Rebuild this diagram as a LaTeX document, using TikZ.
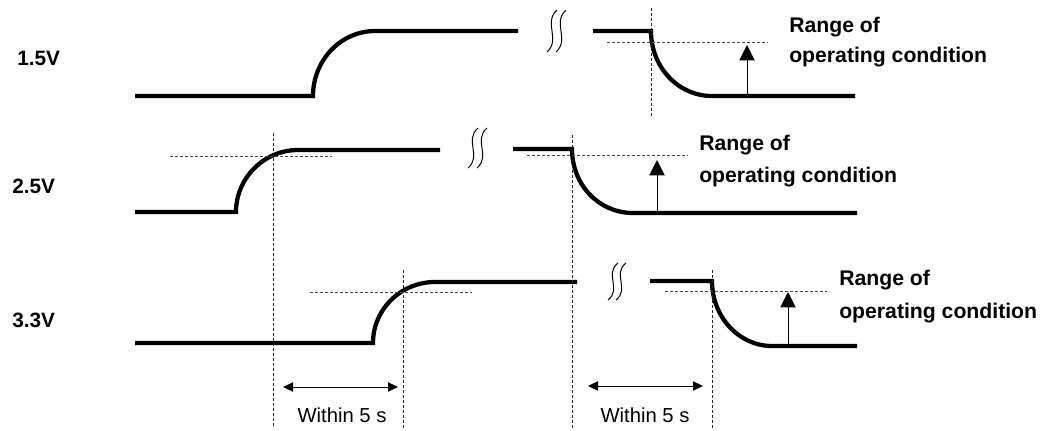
\documentclass[tikz,border=0pt]{standalone}
\usepackage{fontspec}
\setmainfont{Liberation Sans}
\usetikzlibrary{arrows.meta}
\newcommand\breakmark[4]{%
  \foreach \bx in {#1,#2}{%
    \draw[brk] (\bx+5,#3) .. controls (\bx-9,{#3+(#4-#3)*0.3}) and (\bx+9,{#4-(#4-#3)*0.3}) .. (\bx-5,#4);
  }%
}
\begin{document}
\begin{tikzpicture}[x=0.75pt,y=-0.75pt,
  wave/.style={line width=3.2pt, line cap=butt, line join=miter},
  hguide/.style={line width=0.75pt, black!70, dash pattern=on 2.25pt off 1.5pt},
  vguide/.style={line width=0.75pt, black!85, dash pattern=on 2.25pt off 1.5pt},
  brk/.style={line width=0.75pt},
  uparrow/.style={line width=0.75pt, -{Triangle[length=11.5pt,width=11.5pt]}},
  spanarrow/.style={line width=0.75pt, {Triangle[length=7.5pt,width=7pt]}-{Triangle[length=7.5pt,width=7pt]}},
  vlabel/.style={font=\bfseries\fontsize{15.6}{18}\selectfont, anchor=base west, inner sep=0pt},
  rlabel/.style={font=\bfseries\fontsize{15.9}{18}\selectfont, anchor=base west, inner sep=0pt},
  wlabel/.style={font=\fontsize{15.2}{18}\selectfont, anchor=base, inner sep=0pt},
]
\useasboundingbox (0,0) rectangle (1047,430);

% ---------- row 1 : 1.5V ----------
\node[vlabel] (v15) at (17,65) {1.5V};
\coordinate (a0) at (135,96);
\coordinate (a1) at (313,96);
\coordinate (a2) at (375,31);
\coordinate (a3) at (518,31);
\draw[wave] (a0) -- (a1) .. controls (313,60) and (341,31) .. (a2) -- (a3);
\breakmark{552}{561}{10}{52}
\coordinate (b0) at (593,31);
\coordinate (b1) at (651,31);
\coordinate (b2) at (712,96);
\coordinate (b3) at (855,96);
\draw[wave] (b0) -- (b1) .. controls (651,67) and (678,96) .. (b2) -- (b3);
\coordinate (g1t) at (651,8);
\coordinate (g1b) at (651,118);
\draw[vguide] (g1t) -- (g1b);
\coordinate (h1l) at (607,42);
\coordinate (h1r) at (768,42);
\draw[hguide] (h1l) -- (h1r);
\coordinate (r1s) at (747,96);
\coordinate (r1e) at (747,45);
\draw[uparrow] (r1s) -- (r1e);
\node[rlabel] (r1a) at (789,32) {Range of};
\node[rlabel] (r1b) at (789,62) {operating condition};

% ---------- row 2 : 2.5V ----------
\node[vlabel] (v25) at (12,193) {2.5V};
\coordinate (c0) at (135,212);
\coordinate (c1) at (236,212);
\coordinate (c2) at (298,150);
\coordinate (c3) at (440,150);
\draw[wave] (c0) -- (c1) .. controls (236,178) and (264,150) .. (c2) -- (c3);
\breakmark{473}{482}{128}{168}
\coordinate (d0) at (513,149);
\coordinate (d1) at (572,149);
\coordinate (d2) at (633,213);
\coordinate (d3) at (857,213);
\draw[wave] (d0) -- (d1) .. controls (572,185) and (599,213) .. (d2) -- (d3);
\coordinate (h2al) at (170,156);
\coordinate (h2ar) at (332,156);
\draw[hguide] (h2al) -- (h2ar);
\coordinate (h2bl) at (527,155);
\coordinate (h2br) at (688,155);
\draw[hguide] (h2bl) -- (h2br);
\coordinate (r2s) at (657,213);
\coordinate (r2e) at (657,160);
\draw[uparrow] (r2s) -- (r2e);
\node[rlabel] (r2a) at (699,150) {Range of};
\node[rlabel] (r2b) at (699,182) {operating condition};

% ---------- row 3 : 3.3V ----------
\node[vlabel] (v33) at (12,327) {3.3V};
\coordinate (e0) at (135,343);
\coordinate (e1) at (373,343);
\coordinate (e2) at (435,282);
\coordinate (e3) at (577,282);
\draw[wave] (e0) -- (e1) .. controls (373,309) and (401,282) .. (e2) -- (e3);
\breakmark{613}{621}{263}{300}
\coordinate (f0) at (650,281);
\coordinate (f1) at (712,281);
\coordinate (f2) at (772,346);
\coordinate (f3) at (857,346);
\draw[wave] (f0) -- (f1) .. controls (712,317) and (739,346) .. (f2) -- (f3);
\coordinate (h3al) at (310,292);
\coordinate (h3ar) at (472,292);
\draw[hguide] (h3al) -- (h3ar);
\coordinate (h3bl) at (665,291);
\coordinate (h3br) at (827,291);
\draw[hguide] (h3bl) -- (h3br);
\coordinate (r3s) at (788,346);
\coordinate (r3e) at (788,292);
\draw[uparrow] (r3s) -- (r3e);
\node[rlabel] (r3a) at (839,285) {Range of};
\node[rlabel] (r3b) at (839,318) {operating condition};

% ---------- long vertical guides ----------
\coordinate (gAt) at (273,133);
\coordinate (gAb) at (273,428);
\draw[vguide] (gAt) -- (gAb);
\coordinate (gBt) at (403,270);
\coordinate (gBb) at (403,428);
\draw[vguide] (gBt) -- (gBb);
\coordinate (gCt) at (572,135);
\coordinate (gCb) at (572,428);
\draw[vguide] (gCt) -- (gCb);
\coordinate (gDt) at (712,270);
\coordinate (gDb) at (712,428);
\draw[vguide] (gDt) -- (gDb);

% ---------- time spans ----------
\coordinate (s1l) at (283,387);
\coordinate (s1r) at (398,387);
\draw[spanarrow] (s1l) -- (s1r);
\node[wlabel] (w1) at (342,422) {Within 5 s};
\coordinate (s2l) at (588,386);
\coordinate (s2r) at (703,386);
\draw[spanarrow] (s2l) -- (s2r);
\node[wlabel] (w2) at (645,422) {Within 5 s};
\end{tikzpicture}
\end{document}
